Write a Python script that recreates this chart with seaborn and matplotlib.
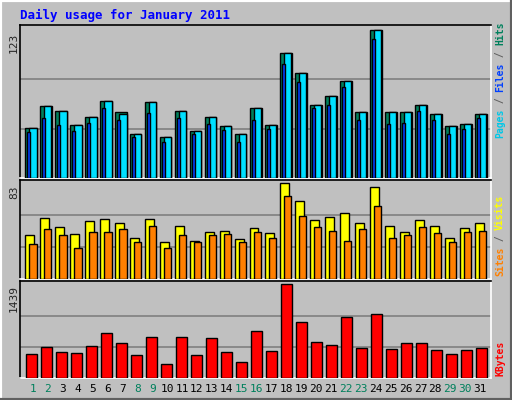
import numpy as np
import matplotlib
matplotlib.use("Agg")
import matplotlib.pyplot as plt
import seaborn as sns

days = list(range(1, 32))
weekend = [1, 2, 8, 9, 15, 16, 22, 23, 29, 30]

hits = [42, 60, 56, 44, 51, 64, 55, 37, 63, 34, 56, 39, 51, 43, 37, 58, 44, 104, 87, 61, 68, 81, 55, 123, 55, 55, 61, 53, 43, 45, 53]
pages = [42, 60, 56, 44, 51, 64, 53, 37, 63, 34, 56, 39, 51, 43, 37, 58, 44, 104, 87, 61, 68, 81, 55, 123, 55, 55, 61, 53, 43, 45, 53]
files = [38, 50, 44, 39, 46, 58, 48, 34, 54, 30, 50, 37, 45, 40, 30, 48, 41, 95, 80, 58, 61, 76, 48, 116, 45, 46, 56, 48, 37, 41, 50]
visits = [38, 53, 45, 39, 50, 52, 49, 36, 52, 32, 46, 33, 41, 42, 35, 44, 40, 83, 68, 51, 54, 57, 49, 80, 46, 41, 51, 46, 36, 44, 49]
sites = [30, 43, 38, 27, 41, 41, 43, 32, 46, 27, 38, 32, 38, 39, 32, 41, 36, 72, 55, 45, 42, 33, 43, 63, 36, 38, 45, 40, 32, 41, 42]
kbytes = [364, 474, 395, 380, 490, 696, 538, 348, 633, 221, 633, 348, 617, 395, 253, 727, 411, 1439, 854, 553, 506, 933, 459, 980, 443, 538, 538, 427, 364, 427, 459]

sns.set_style("white")
plt.rcParams['font.family'] = ['DejaVu Sans Mono', 'DejaVu Sans']

W, H = 512, 400
fig = plt.figure(figsize=(W / 100, H / 100), dpi=100)
fig.patch.set_facecolor("#C0C0C0")
bg = "#C0C0C0"
x = np.array(days, dtype=float)

# bevel
fig.add_artist(plt.Line2D([0, 0, 1], [0, 1, 1], transform=fig.transFigure, color="white", lw=3))
fig.add_artist(plt.Line2D([0, 1, 1], [0, 0, 1], transform=fig.transFigure, color="#606060", lw=3))

def panel(top, bottom):
    return fig.add_axes([20 / W, 1 - bottom / H, 471 / W, (bottom - top) / H])

def style(ax, ymax):
    ax.set_facecolor(bg)
    ax.set_xlim(0.5, 0.5 + 471 / 15)
    ax.set_ylim(0, ymax * 1.035)
    for g in (ymax / 3, 2 * ymax / 3):
        ax.axhline(g, color="#808080", lw=1.2, zorder=0)
    ax.set_xticks([])
    ax.set_yticks([])
    for s in ax.spines.values():
        s.set_color("black")
        s.set_linewidth(1.2)
    ax.spines["right"].set_color("white")
    ax.spines["bottom"].set_color("white")

ek = dict(edgecolor="black", linewidth=1, align="edge", zorder=3)

ax1 = panel(25, 178)
style(ax1, 123)
ax1.bar(x - 0.17, hits, width=0.77, color="#00805C", **ek)
ax1.bar(x + 0.11, pages, width=0.49, color="#00E0FF", **ek)
ax1.bar(x - 0.06, files, width=0.22, color="#0040FF", **ek)

ax2 = panel(180, 279)
style(ax2, 83)
ax2.bar(x - 0.17, visits, width=0.57, color="#FFFF00", **ek)
ax2.bar(x + 0.11, sites, width=0.49, color="#FF8000", **ek)

ax3 = panel(281, 378)
style(ax3, 1439)
ax3.bar(x - 0.10, kbytes, width=0.70, color="#FF0000", **ek)

fig.text(20 / W, 1 - 15 / H, "Daily usage for January 2011", color="#0000FF",
         fontsize=9, fontweight="bold", va="center", ha="left")

for txt, yc in (("123", 43), ("83", 192), ("1439", 298)):
    fig.text(14 / W, 1 - yc / H, txt, rotation=90, fontsize=8, ha="center", va="center")

# right labels, drawn piece by piece from the bottom up
def right_label(parts, ybottom):
    cw = 5.8
    y = ybottom
    for p, c in parts:
        fig.text(500 / W, 1 - y / H, p, rotation=90, fontsize=7, color=c,
                 ha="center", va="bottom", fontweight="bold")
        y -= len(p) * cw

right_label([("Pages", "#00C8E8"), (" / ", "#606060"), ("Files", "#0040FF"),
             (" / ", "#606060"), ("Hits", "#00805C")], 138)
right_label([("Sites", "#FF8000"), (" / ", "#606060"), ("Visits", "#FFFF00")], 276)
right_label([("KBytes", "#FF0000")], 376)

for d in days:
    px = 33 + (d - 1) * 14.9
    fig.text(px / W, 1 - 389 / H, str(d), fontsize=8, ha="center", va="center",
             color="#00805C" if d in weekend else "black")

fig.savefig("out.png", dpi=100, facecolor=fig.get_facecolor())
